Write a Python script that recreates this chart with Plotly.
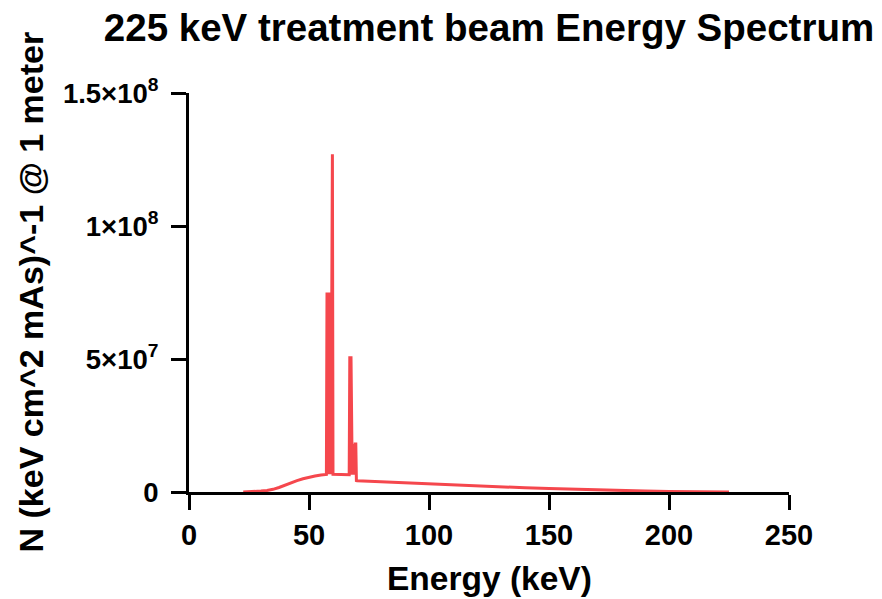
import plotly.graph_objects as go

# Energy (keV) and photon fluence N (per keV cm^2 mAs @ 1 m)
energy = [22.6, 25, 27.5, 30, 32.5, 35, 37.5, 40, 42.5, 45, 47.5, 50, 52.5, 55, 57.25,
          57.5, 57.75, 58.0, 58.25, 58.5, 58.75, 59.0, 59.25, 59.5, 59.75, 60.0,
          62, 65, 66.75,
          67.0, 67.25, 67.5, 67.75, 68.0, 68.25, 68.5, 68.75, 69.0, 69.25, 69.5, 69.75,
          70, 75, 80, 90, 100, 110, 120, 130, 140, 150, 160, 170, 180, 190, 200, 210, 220, 225]
counts = [0.0, 0.05e6, 0.15e6, 0.35e6, 0.6e6, 1.0e6, 1.7e6, 2.6e6, 3.5e6, 4.3e6, 5.0e6, 5.6e6, 6.0e6, 6.4e6, 6.6e6,
          7.5e7, 6.7e6, 7.5e7, 6.7e6, 7.5e7, 6.7e6, 7.5e7, 6.7e6, 7.5e7, 1.27e8, 6.7e6,
          6.7e6, 6.6e6, 6.5e6,
          5.1e7, 6.5e6, 5.1e7, 1.8e7, 6.5e6, 1.8e7, 6.5e6, 1.8e7, 6.5e6, 1.8e7, 1.8e7, 4.3e6,
          4.25e6, 4.0e6, 3.8e6, 3.5e6, 3.2e6, 2.8e6, 2.4e6, 2.0e6, 1.6e6, 1.3e6, 1.0e6, 0.75e6, 0.5e6, 0.35e6, 0.2e6, 0.1e6, 0.03e6, 0.0]

x_ticks = [0, 50, 100, 150, 200, 250]
y_ticks = [0, 5e7, 1e8, 1.5e8]
y_tick_text = ["0", "5×10<sup>7</sup>", "1×10<sup>8</sup>", "1.5×10<sup>8</sup>"]

FONT = "Liberation Sans, Arial, Helvetica, sans-serif"

fig = go.Figure()
fig.add_trace(go.Scatter(
    x=energy, y=counts, mode="lines",
    line=dict(color="#F5474D", width=3),
    showlegend=False,
))

axis_common = dict(
    showgrid=False, zeroline=False,
    showline=True, linecolor="black", linewidth=3,
    ticks="outside", ticklen=15, tickwidth=3, tickcolor="black",
    layer="below traces",
)

fig.update_layout(
    width=882, height=599,
    margin=dict(l=189, r=93, t=93, b=107),
    paper_bgcolor="white", plot_bgcolor="white",
    title=dict(text="225 keV treatment beam Energy Spectrum",
               x=0.5, xref="paper", xanchor="center",
               y=1 - 28 / 599, yref="container", yanchor="middle",
               font=dict(family=FONT, size=38.5, color="black", weight=700)),
    xaxis=dict(range=[0, 250], tickvals=x_ticks,
               tickfont=dict(family=FONT, size=29, color="black", weight=700),
               **axis_common),
    yaxis=dict(range=[0, 1.5e8], tickvals=y_ticks, ticktext=y_tick_text,
               ticklabelstandoff=7,
               tickfont=dict(family=FONT, size=27.5, color="black", weight=700),
               **axis_common),
    annotations=[
        dict(text="Energy (keV)", x=0.5, xref="paper", y=(492 - 578) / 399, yref="paper",
             xanchor="center", yanchor="middle", showarrow=False,
             font=dict(family=FONT, size=33.5, color="black", weight=700)),
        dict(text="N (keV cm^2 mAs)^-1 @ 1 meter", x=(30 - 189) / 600, xref="paper",
             y=0.5, yref="paper", xanchor="center", yanchor="middle", textangle=-90,
             showarrow=False,
             font=dict(family=FONT, size=34, color="black", weight=700)),
    ],
)

fig.write_html("out.html")
